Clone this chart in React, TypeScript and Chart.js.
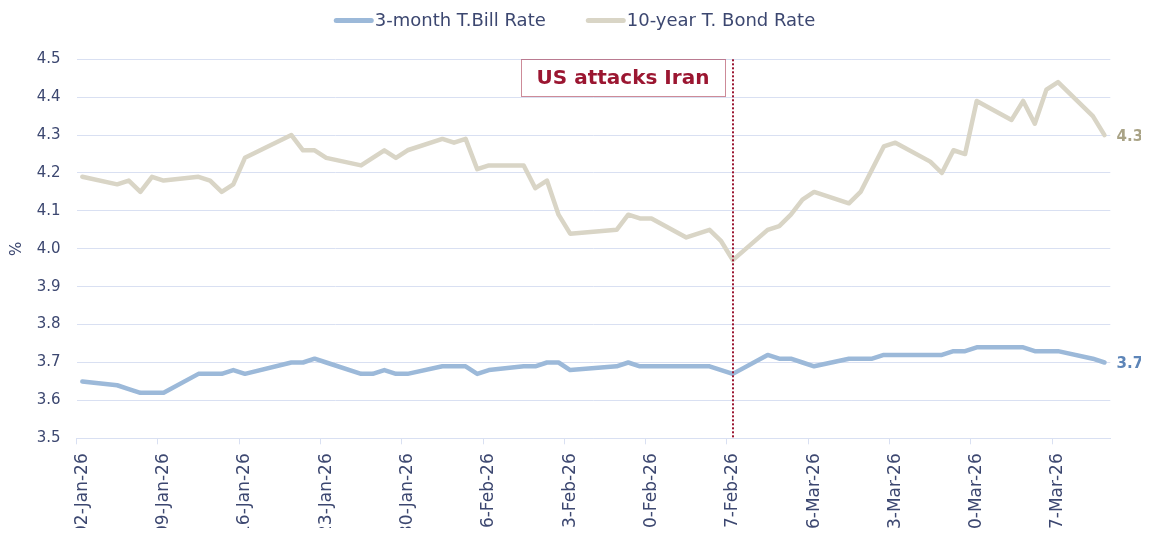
import React, { useEffect, useRef } from 'react';
import { Chart, registerables } from 'chart.js';

Chart.register(...registerables);

// ---------- data ----------
const calendarStart = '2026-01-02';
const calendarDays = 89; // 02-Jan-26 .. 31-Mar-26

const tradeDates = [
  '02-Jan-26', '05-Jan-26', '06-Jan-26', '07-Jan-26', '08-Jan-26', '09-Jan-26',
  '12-Jan-26', '13-Jan-26', '14-Jan-26', '15-Jan-26', '16-Jan-26',
  '20-Jan-26', '21-Jan-26', '22-Jan-26', '23-Jan-26',
  '26-Jan-26', '27-Jan-26', '28-Jan-26', '29-Jan-26', '30-Jan-26',
  '02-Feb-26', '03-Feb-26', '04-Feb-26', '05-Feb-26', '06-Feb-26',
  '09-Feb-26', '10-Feb-26', '11-Feb-26', '12-Feb-26', '13-Feb-26',
  '17-Feb-26', '18-Feb-26', '19-Feb-26', '20-Feb-26',
  '23-Feb-26', '24-Feb-26', '25-Feb-26', '26-Feb-26', '27-Feb-26',
  '02-Mar-26', '03-Mar-26', '04-Mar-26', '05-Mar-26', '06-Mar-26',
  '09-Mar-26', '10-Mar-26', '11-Mar-26', '12-Mar-26', '13-Mar-26',
  '16-Mar-26', '17-Mar-26', '18-Mar-26', '19-Mar-26', '20-Mar-26',
  '23-Mar-26', '24-Mar-26', '25-Mar-26', '26-Mar-26', '27-Mar-26',
  '30-Mar-26', '31-Mar-26',
];

const billRate = [
  3.65, 3.64, 3.63, 3.62, 3.62, 3.62,
  3.67, 3.67, 3.67, 3.68, 3.67,
  3.70, 3.70, 3.71, 3.70,
  3.67, 3.67, 3.68, 3.67, 3.67,
  3.69, 3.69, 3.69, 3.67, 3.68,
  3.69, 3.69, 3.70, 3.70, 3.68,
  3.69, 3.70, 3.69, 3.69,
  3.69, 3.69, 3.69, 3.68, 3.67,
  3.72, 3.71, 3.71, 3.70, 3.69,
  3.71, 3.71, 3.71, 3.72, 3.72,
  3.72, 3.72, 3.73, 3.73, 3.74,
  3.74, 3.74, 3.73, 3.73, 3.73,
  3.71, 3.70,
];

const bondRate = [
  4.19, 4.17, 4.18, 4.15, 4.19, 4.18,
  4.19, 4.18, 4.15, 4.17, 4.24,
  4.30, 4.26, 4.26, 4.24,
  4.22, 4.24, 4.26, 4.24, 4.26,
  4.29, 4.28, 4.29, 4.21, 4.22,
  4.22, 4.16, 4.18, 4.09, 4.04,
  4.05, 4.09, 4.08, 4.08,
  4.03, 4.04, 4.05, 4.02, 3.97,
  4.05, 4.06, 4.09, 4.13, 4.15,
  4.12, 4.15, 4.21, 4.27, 4.28,
  4.23, 4.20, 4.26, 4.25, 4.39,
  4.34, 4.39, 4.33, 4.42, 4.44,
  4.35, 4.30,
];

const seriesNames = ['3-month T.Bill Rate', '10-year T. Bond Rate'];
const eventDate = '27-Feb-26';
const eventText = 'US attacks Iran';
const yMin = 3.5;
const yMax = 4.5;
const yStep = 0.1;
const yTitle = '%';
const monthNames = ['Jan', 'Feb', 'Mar', 'Apr', 'May', 'Jun', 'Jul', 'Aug', 'Sep', 'Oct', 'Nov', 'Dec'];

// ---------- styles ----------
const FONT = '"DejaVu Sans", sans-serif';
const NAVY = '#3c4770';
const GRID = '#d9e0f2';
const BLUE = '#9cb9d9';
const BEIGE = '#d9d5c6';
const RED = '#9b1631';
const END_COLORS = ['#5d85b8', '#a9a386'];

function buildCalendar(start: string, n: number): string[] {
  const t0 = new Date(start + 'T00:00:00Z').getTime();
  const out: string[] = [];
  for (let i = 0; i < n; i++) {
    const d = new Date(t0 + i * 86400000);
    const dd = String(d.getUTCDate()).padStart(2, '0');
    const yy = String(d.getUTCFullYear()).slice(2);
    out.push(`${dd}-${monthNames[d.getUTCMonth()]}-${yy}`);
  }
  return out;
}

const overlayPlugin = {
  id: 'overlay',
  afterDatasetsDraw(chart: any) {
    const { ctx, chartArea, scales } = chart;
    const labels: string[] = chart.data.labels;
    const x = Math.round(scales.x.getPixelForValue(labels.indexOf(eventDate)));
    ctx.save();
    // event line
    ctx.strokeStyle = RED;
    ctx.lineWidth = 2;
    ctx.setLineDash([2, 2]);
    ctx.beginPath();
    ctx.moveTo(x, chartArea.top);
    ctx.lineTo(x, chartArea.bottom);
    ctx.stroke();
    // event box
    ctx.font = `bold 20px ${FONT}`;
    const tw = ctx.measureText(eventText).width;
    const bw = Math.round(tw + 31);
    const bh = 37;
    const bx = x - 8 - bw;
    const by = Math.round(chartArea.top);
    ctx.lineWidth = 1;
    ctx.setLineDash([1, 1]);
    ctx.strokeRect(bx + 0.5, by + 0.5, bw, bh);
    ctx.setLineDash([]);
    ctx.fillStyle = RED;
    ctx.textAlign = 'center';
    ctx.textBaseline = 'middle';
    ctx.fillText(eventText, bx + bw / 2, by + bh / 2 + 1);
    // end labels
    chart.data.datasets.forEach((ds: any, i: number) => {
      const meta = chart.getDatasetMeta(i);
      const pt = meta.data[meta.data.length - 1];
      const v = ds.data[ds.data.length - 1].y;
      ctx.font = `bold 15px ${FONT}`;
      ctx.fillStyle = END_COLORS[i];
      ctx.textAlign = 'left';
      ctx.textBaseline = 'middle';
      ctx.fillText(Number(v).toFixed(1), pt.x + 12, pt.y + 2);
    });
    ctx.restore();
  },
  afterDraw(chart: any) {
    const { ctx } = chart;
    ctx.save();
    ctx.font = `18px ${FONT}`;
    const items = chart.data.datasets.map((ds: any) => ({
      text: ds.label,
      color: ds.borderColor,
      w: ctx.measureText(ds.label).width,
    }));
    const lineLen = 40;
    const gapText = 1;
    const gapItem = 40;
    let total = 0;
    items.forEach((it: any, i: number) => {
      total += lineLen + gapText + it.w + (i > 0 ? gapItem : 0);
    });
    let x = (chart.width - total) / 2;
    const y = 12.5;
    items.forEach((it: any) => {
      ctx.strokeStyle = it.color;
      ctx.lineWidth = 5;
      ctx.lineCap = 'round';
      ctx.beginPath();
      ctx.moveTo(x + 2.5, y);
      ctx.lineTo(x + lineLen - 2.5, y);
      ctx.stroke();
      ctx.fillStyle = NAVY;
      ctx.textAlign = 'left';
      ctx.textBaseline = 'middle';
      ctx.fillText(it.text, x + lineLen + gapText, y + 1);
      x += lineLen + gapText + it.w + gapItem;
    });
    ctx.restore();
  },
};

export default function App() {
  const canvasRef = useRef<HTMLCanvasElement | null>(null);

  useEffect(() => {
    const canvas = canvasRef.current;
    if (!canvas) return;
    const labels = buildCalendar(calendarStart, calendarDays);
    const chart = new Chart(canvas, {
      type: 'line',
      data: {
        labels,
        datasets: [
          {
            label: seriesNames[0],
            data: tradeDates.map((d, i) => ({ x: d, y: billRate[i] })),
            borderColor: BLUE,
            backgroundColor: BLUE,
            borderWidth: 4.5,
            pointRadius: 0,
            tension: 0,
            borderJoinStyle: 'round',
            borderCapStyle: 'round',
          },
          {
            label: seriesNames[1],
            data: tradeDates.map((d, i) => ({ x: d, y: bondRate[i] })),
            borderColor: BEIGE,
            backgroundColor: BEIGE,
            borderWidth: 4.5,
            pointRadius: 0,
            tension: 0,
            borderJoinStyle: 'round',
            borderCapStyle: 'round',
          },
        ],
      },
      options: {
        animation: false,
        responsive: true,
        maintainAspectRatio: false,
        layout: { padding: { top: 51.3, right: 30.7, left: 0, bottom: 0 } },
        plugins: {
          legend: { display: false },
          tooltip: { enabled: false },
        },
        scales: {
          x: {
            type: 'category',
            offset: true,
            afterFit: (scale: any) => {
              scale.height = 97.7;
            },
            grid: {
              offset: true,
              drawOnChartArea: false,
              drawTicks: true,
              tickLength: 6,
              color: (c: any) => (c.index % 7 === 0 ? GRID : 'rgba(0,0,0,0)'),
            },
            border: { display: true, color: GRID, width: 1 },
            ticks: {
              autoSkip: false,
              maxRotation: 90,
              minRotation: 90,
              padding: 9,
              color: NAVY,
              font: { family: FONT, size: 17 },
              callback: function (this: any, val: any, index: number) {
                return index % 7 === 0 ? this.getLabelForValue(val) : '';
              },
            },
          },
          y: {
            min: yMin,
            max: yMax,
            afterFit: (scale: any) => {
              scale.width = 68.5;
            },
            grid: { color: GRID, lineWidth: 1, drawTicks: false },
            border: { display: false },
            title: {
              display: true,
              text: yTitle,
              color: NAVY,
              font: { family: FONT, size: 15 },
              padding: { top: 0, bottom: 0 },
            },
            ticks: {
              stepSize: yStep,
              padding: 16,
              color: NAVY,
              font: { family: FONT, size: 15 },
              callback: (v: any) => Number(v).toFixed(1),
            },
          },
        },
      },
      plugins: [overlayPlugin],
    } as any);
    return () => chart.destroy();
  }, []);

  return (
    <div style={{ position: 'relative', width: '100%', height: 528, marginBottom: -8 }}>
      <canvas ref={canvasRef} />
    </div>
  );
}
